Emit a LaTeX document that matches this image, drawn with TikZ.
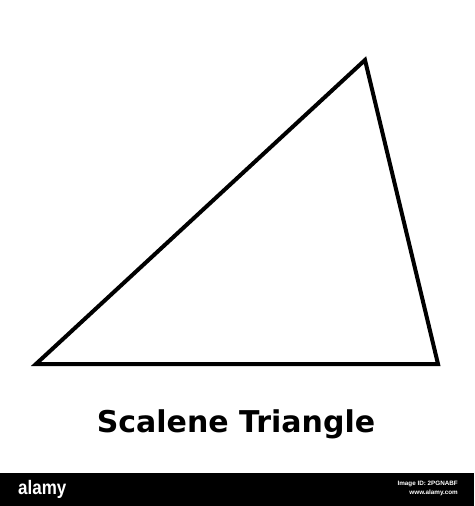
\documentclass[tikz,border=0pt]{standalone}
\usepackage{fontspec}
\setmainfont{DejaVu Sans}
\newfontfamily\barfont{Liberation Sans}
\usetikzlibrary{positioning}

\begin{document}
\begin{tikzpicture} [x = 1pt, y = -1pt, every node/.style = {inner sep = 0pt},
side/.style = {draw = black, line width = 4pt, line join = miter},
caption/.style = {font = \fontsize{30}{32}\selectfont\bfseries},
bartext/.style = {text = white, font = \barfont\fontsize{6.3}{7}\selectfont\bfseries}]

\useasboundingbox (0,0) rectangle (474,506);
\fill [white] (0,0) rectangle (474,506);

% corners of the triangle
\coordinate (A) at (36,364);
\coordinate (B) at (365,60);
\coordinate (C) at (438,364);

\draw [side] (A) -- (B) -- (C) -- cycle;

\node (title) [caption] at (236,424) {Scalene Triangle};

% stock photo strip
\fill [black] (0,473) rectangle (474,506);
\node (logo) [text = white, font = \barfont\fontsize{17}{18}\selectfont\bfseries, anchor = west, yscale = 1.15] at (18,489) {alamy};
\node (imgid) [bartext, anchor = east] at (458,484) {Image ID: 2PGNABF};
\node (web) [bartext, below = 2.5pt of imgid.south east, anchor = north east] {www.alamy.com};
\end{tikzpicture}
\end{document}
